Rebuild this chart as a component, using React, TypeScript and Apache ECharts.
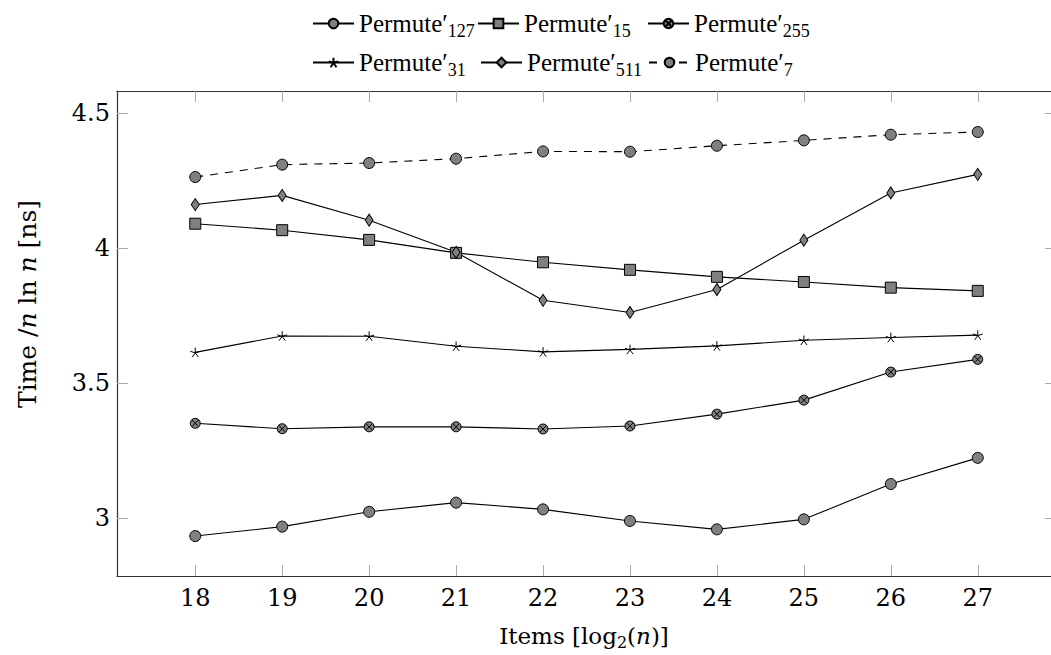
import React, { useEffect, useRef } from "react";
import * as echarts from "echarts";

const xValues = [18, 19, 20, 21, 22, 23, 24, 25, 26, 27];
const yTicks = [3, 3.5, 4, 4.5];
const permute127 = [2.933, 2.968, 3.023, 3.057, 3.032, 2.989, 2.958, 2.995, 3.126, 3.223];
const permute15 = [4.091, 4.067, 4.031, 3.983, 3.948, 3.92, 3.894, 3.875, 3.854, 3.842];
const permute255 = [3.351, 3.331, 3.338, 3.338, 3.33, 3.341, 3.385, 3.437, 3.541, 3.588];
const permute31 = [3.614, 3.675, 3.674, 3.637, 3.616, 3.625, 3.638, 3.659, 3.669, 3.678];
const permute511 = [4.162, 4.196, 4.104, 3.985, 3.807, 3.762, 3.847, 4.03, 4.205, 4.274];
const permute7 = [4.264, 4.31, 4.316, 4.332, 4.359, 4.358, 4.38, 4.4, 4.421, 4.431];

const LEG_FONT = "Liberation Serif";
const MATH_FONT = "DejaVu Serif";

const CROSS_CIRCLE =
  "path://M-1 0A1 1 0 1 0 1 0A1 1 0 1 0 -1 0ZM-0.68 -0.68L0.68 0.68M-0.68 0.68L0.68 -0.68";
const STAR =
  "path://M0 0L0 -1M0 0L0.951 -0.309M0 0L0.588 0.809M0 0L-0.588 0.809M0 0L-0.951 -0.309";

const X_MIN = 17.1;
const X_MAX = 27.9;
const Y_MIN = 2.785;
const Y_MAX = 4.583;

function zip(ys: number[]) {
  return xValues.map((x, i) => [x, ys[i]]);
}

export default function App() {
  const ref = useRef<HTMLDivElement>(null);

  useEffect(() => {
    if (!ref.current) return;
    const chart = echarts.init(ref.current, undefined, { renderer: "svg" });

    const defs = [
      { sub: "127", data: permute127, symbol: "circle", size: 11, dashed: false, star: false },
      { sub: "15", data: permute15, symbol: "rect", size: 11, dashed: false, star: false },
      { sub: "255", data: permute255, symbol: CROSS_CIRCLE, size: 10, dashed: false, star: false },
      { sub: "31", data: permute31, symbol: STAR, size: 10, dashed: false, star: true },
      { sub: "511", data: permute511, symbol: "diamond", size: [8, 12], dashed: false, star: false },
      { sub: "7", data: permute7, symbol: "circle", size: 11, dashed: true, star: false },
    ];

    const series = defs.map((d) => ({
      type: "line",
      name: "Permute" + d.sub,
      data: zip(d.data),
      symbol: d.symbol,
      symbolSize: d.size,
      symbolKeepAspect: true,
      showSymbol: true,
      lineStyle: { color: "#000", width: 1.1, type: d.dashed ? [8, 7] : "solid" },
      itemStyle: {
        color: d.star ? "#000" : "#808080",
        borderColor: "#000",
        borderWidth: 1,
      },
      emphasis: { disabled: true },
      z: 3,
    }));

    const legendPos = [
      { sub: "127", left: 312, top: 11 },
      { sub: "15", left: 477, top: 11 },
      { sub: "255", left: 647, top: 11 },
      { sub: "31", left: 312, top: 50 },
      { sub: "511", left: 480, top: 50 },
      { sub: "7", left: 648, top: 50 },
    ];

    const legend = legendPos.map((l) => ({
      show: true,
      left: l.left,
      top: l.top,
      padding: 0,
      itemWidth: 41,
      itemHeight: 12,
      selectedMode: false,
      data: ["Permute" + l.sub],
      formatter: () => `{a|Permute′}{s|${l.sub}}`,
      textStyle: {
        color: "#000",
        fontFamily: LEG_FONT,
        fontSize: 25,
        rich: {
          a: { fontFamily: LEG_FONT, fontSize: 25, color: "#000" },
          s: { fontFamily: LEG_FONT, fontSize: 18, color: "#000", padding: [14, 0, 0, 0] },
        },
      },
    }));

    const axisLineStyle = { color: "#333", width: 1.2 };
    const tickStyle = { color: "#aaa", width: 1 };

    const option = {
      animation: false,
      legend,
      grid: { left: 117, right: 4, top: 91, bottom: 79, containLabel: false },
      xAxis: [
        {
          type: "value",
          position: "bottom",
          min: X_MIN,
          max: X_MAX,
          axisLine: { show: true, onZero: false, lineStyle: axisLineStyle },
          axisTick: { show: true, inside: true, length: 11, lineStyle: tickStyle, customValues: xValues },
          axisLabel: {
            show: true,
            customValues: xValues,
            color: "#000",
            fontFamily: MATH_FONT,
            fontSize: 24,
            margin: 10,
          },
          splitLine: { show: false },
        },
        {
          type: "value",
          position: "top",
          min: X_MIN,
          max: X_MAX,
          axisLine: { show: true, onZero: false, lineStyle: axisLineStyle },
          axisTick: { show: true, inside: true, length: 11, lineStyle: tickStyle, customValues: xValues },
          axisLabel: { show: false },
          splitLine: { show: false },
        },
      ],
      yAxis: [
        {
          type: "value",
          position: "left",
          min: Y_MIN,
          max: Y_MAX,
          axisLine: { show: true, onZero: false, lineStyle: axisLineStyle },
          axisTick: { show: true, inside: true, length: 11, lineStyle: tickStyle, customValues: yTicks },
          axisLabel: {
            show: true,
            customValues: yTicks,
            color: "#000",
            fontFamily: MATH_FONT,
            fontSize: 24,
            margin: 7,
            formatter: (v: number) => String(v),
          },
          splitLine: { show: false },
        },
        {
          type: "value",
          position: "right",
          min: Y_MIN,
          max: Y_MAX,
          axisLine: { show: true, onZero: false, lineStyle: axisLineStyle },
          axisTick: { show: true, inside: true, length: 11, lineStyle: tickStyle, customValues: yTicks },
          axisLabel: { show: false },
          splitLine: { show: false },
        },
      ],
      graphic: [
        {
          type: "text",
          x: 584,
          y: 636,
          style: {
            text: "{a|Items [log}{s|2}{a|(}{i|n}{a|)]}",
            align: "center",
            verticalAlign: "middle",
            rich: {
              a: { fontFamily: MATH_FONT, fontSize: 23, fill: "#000" },
              i: { fontFamily: MATH_FONT, fontSize: 23, fontStyle: "italic", fill: "#000" },
              s: { fontFamily: MATH_FONT, fontSize: 16, fill: "#000", padding: [12, 0, 0, 0] },
            },
          },
        },
        {
          type: "text",
          x: 27,
          y: 304,
          rotation: Math.PI / 2,
          style: {
            text: "{a|Time /}{i|n}{a| ln }{i|n}{a| [ns]}",
            align: "center",
            verticalAlign: "middle",
            rich: {
              a: { fontFamily: MATH_FONT, fontSize: 25, fill: "#000" },
              i: { fontFamily: MATH_FONT, fontSize: 25, fontStyle: "italic", fill: "#000" },
            },
          },
        },
      ],
      series,
    };

    chart.setOption(option as any);
    return () => chart.dispose();
  }, []);

  return (
    <div style={{ position: "fixed", left: 0, top: 0, width: 1051, height: 655, overflow: "hidden", background: "#fff" }}>
      <div ref={ref} style={{ width: 1060, height: 655 }} />
    </div>
  );
}
